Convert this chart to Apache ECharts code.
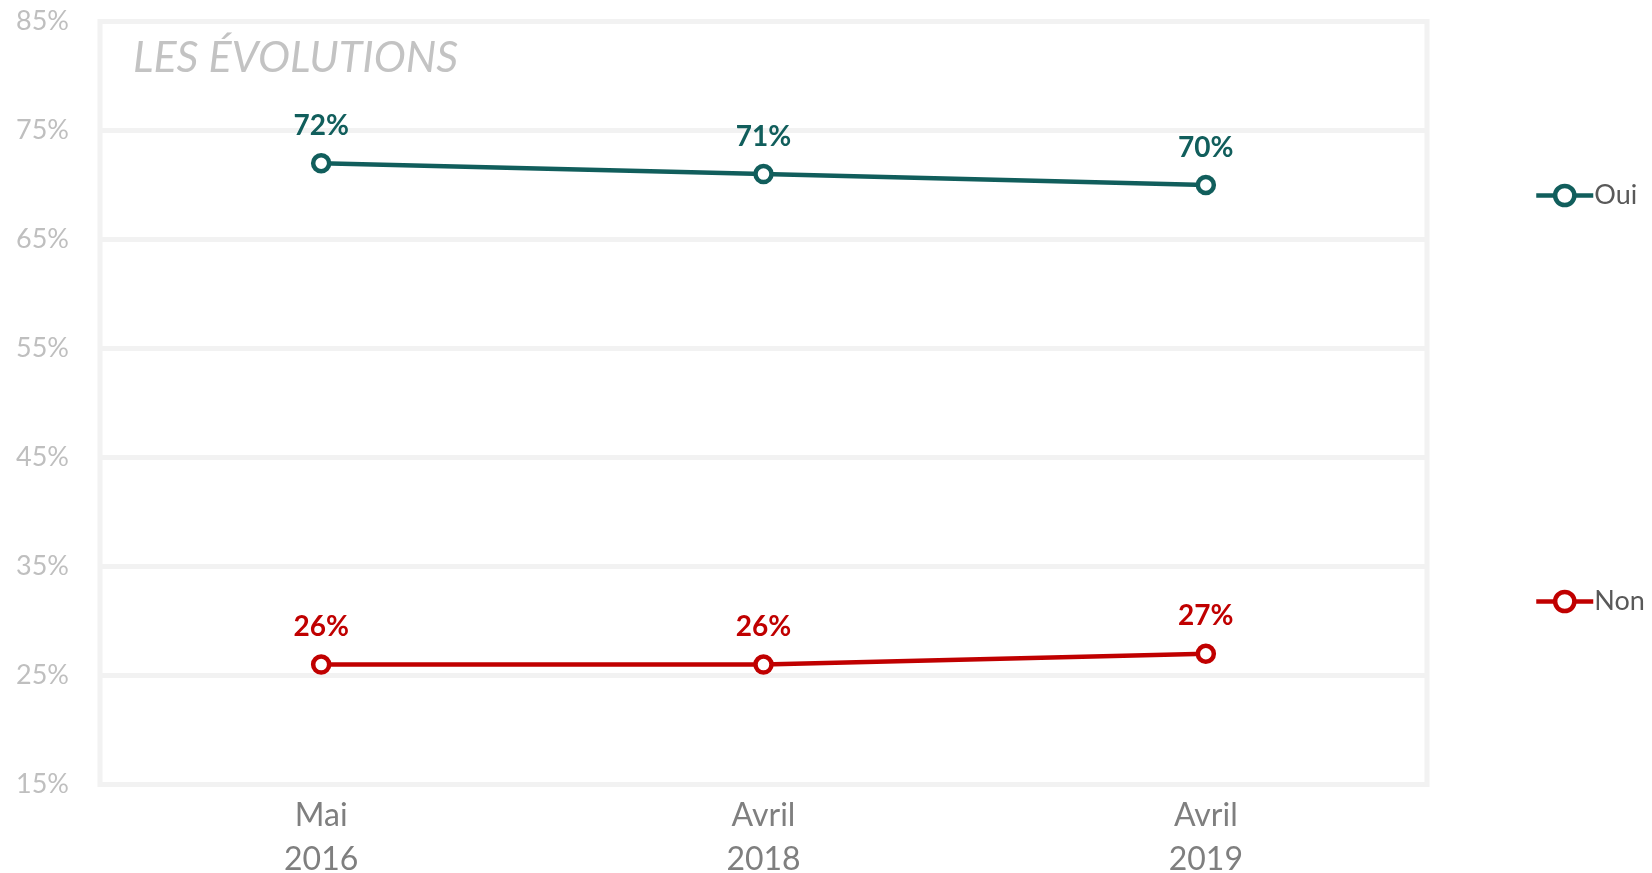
<!DOCTYPE html>
<html>
<head>
<meta charset="utf-8">
<script src="https://cdn.jsdelivr.net/npm/echarts@6/dist/echarts.min.js"></script>
<style>
  html, body { margin: 0; padding: 0; background: #fff; }
  #chart { width: 1652px; height: 873px; }
</style>
</head>
<body>
<div id="chart"></div>
<script>
// données
var categories = ["Mai\n2016", "Avril\n2018", "Avril\n2019"];
var ouiValues = [72, 71, 70];
var nonValues = [26, 26, 27];
var seriesNames = ["Oui", "Non"];
var seriesColors = ["#115e5c", "#c00000"];

var font = "Lato, 'Open Sans', sans-serif";

function makeSeries(name, data, color) {
  return {
    name: name,
    type: "line",
    data: data,
    symbol: "circle",
    symbolSize: 16,
    showAllSymbol: true,
    lineStyle: { color: color, width: 4.5 },
    itemStyle: { color: "#fff", borderColor: color, borderWidth: 4.5 },
    label: {
      show: true,
      position: "top",
      distance: 13,
      formatter: "{c}%",
      color: color,
      fontWeight: "bold",
      fontSize: 28,
      fontFamily: font,
    },
    emphasis: { disabled: true },
  };
}

var myChart = echarts.init(document.getElementById("chart"));
myChart.setOption({
  animation: false,
  title: {
    text: "LES ÉVOLUTIONS",
    left: 128,
    top: 32,
    textStyle: {
      color: "#c3c3c3",
      fontStyle: "italic",
      fontWeight: "normal",
      fontSize: 43,
      fontFamily: font,
    },
  },
  legend: {
    orient: "vertical",
    left: 1529,
    top: 177,
    itemWidth: 57,
    itemHeight: 24,
    itemGap: 379,
    itemStyle: { borderWidth: 4.5 },
    lineStyle: { width: 4.5 },
    textStyle: { color: "#595959", fontSize: 27, fontFamily: font, padding: [0, 0, 0, -4] },
    data: seriesNames,
  },
  grid: {
    left: 100,
    right: 225,
    top: 21.5,
    bottom: 88.5,
    outerBoundsMode: "none",
    show: true,
    backgroundColor: "#fff",
    borderColor: "#f2f2f2",
    borderWidth: 5,
  },
  xAxis: {
    type: "category",
    data: categories,
    boundaryGap: true,
    axisLine: { show: false },
    axisTick: { show: false },
    axisLabel: {
      color: "#7f7f7f",
      fontSize: 32,
      lineHeight: 44,
      margin: 9,
      fontFamily: font,
    },
  },
  yAxis: {
    type: "value",
    min: 15,
    max: 85,
    interval: 10,
    axisLine: { show: false },
    axisTick: { show: false },
    splitLine: { lineStyle: { color: "#f2f2f2", width: 5 } },
    axisLabel: {
      formatter: "{value}%",
      color: "#bfbfbf",
      fontSize: 27,
      margin: 31,
      fontFamily: font,
    },
  },
  series: [
    makeSeries(seriesNames[0], ouiValues, seriesColors[0]),
    makeSeries(seriesNames[1], nonValues, seriesColors[1]),
  ],
});
</script>
</body>
</html>
